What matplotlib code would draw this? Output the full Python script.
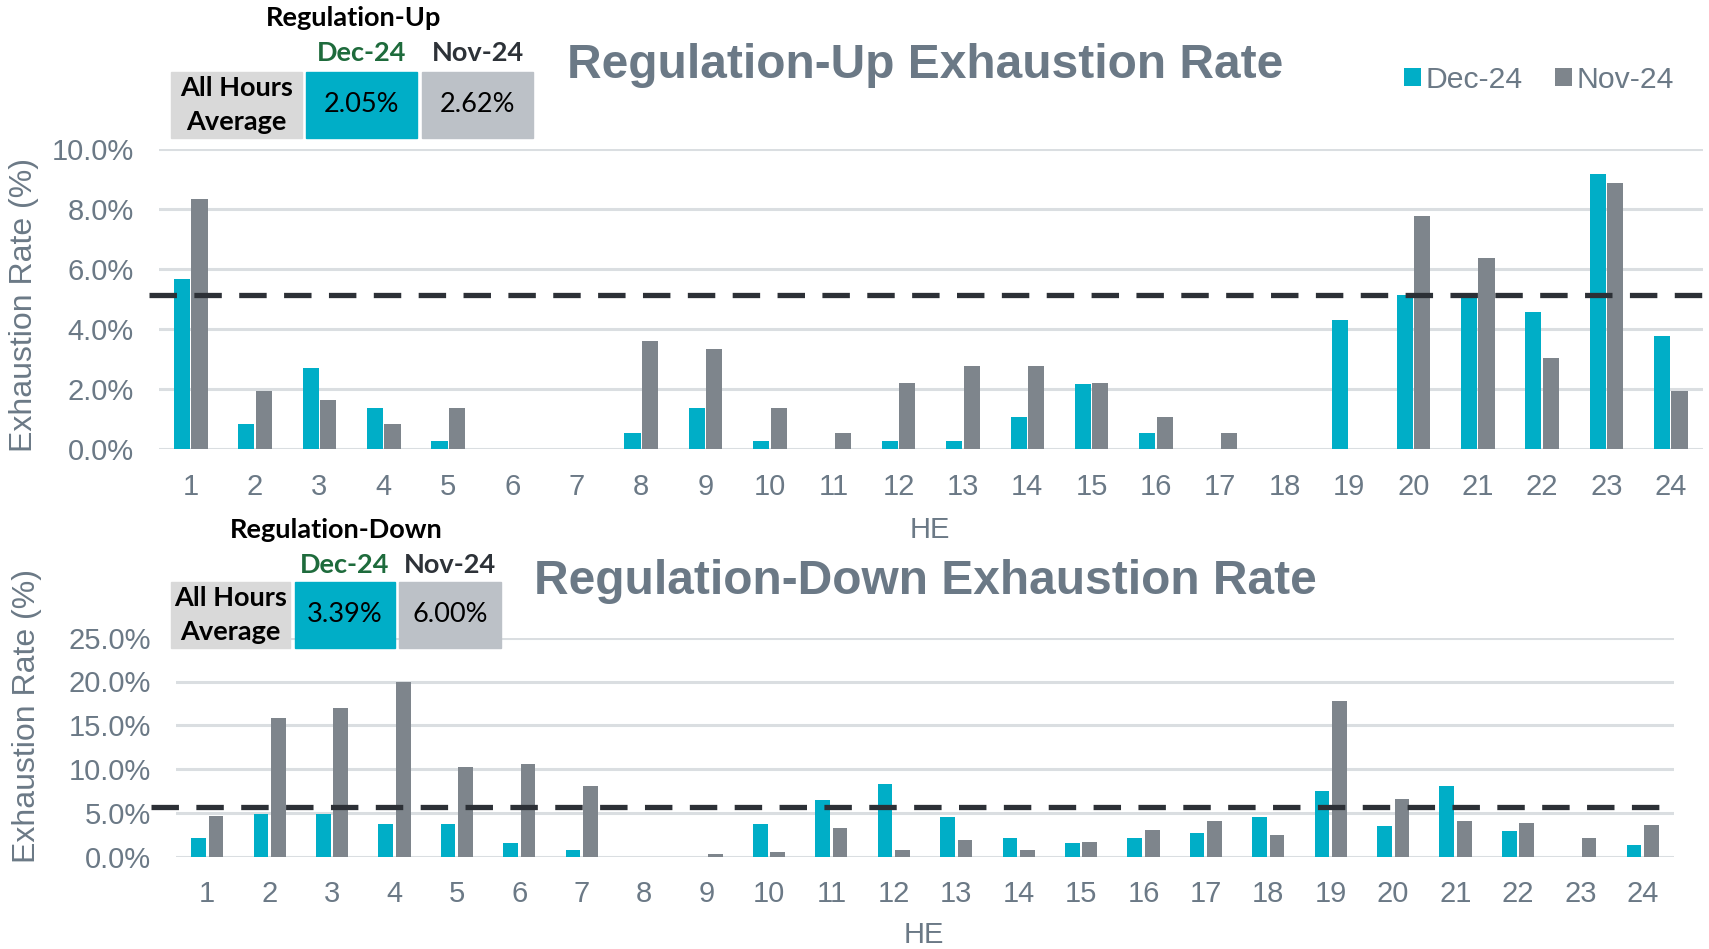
import matplotlib
matplotlib.use("Agg")
import matplotlib.pyplot as plt
from matplotlib.patches import Rectangle
import numpy as np

hours = [str(h) for h in range(1, 25)]
up_dec = [5.66, 0.82, 2.69, 1.36, 0.28, 0, 0, 0.55, 1.36, 0.28, 0, 0.28,
          0.28, 1.08, 2.16, 0.55, 0, 0, 4.31, 5.13, 5.12, 4.58, 9.16, 3.78]
up_nov = [8.32, 1.92, 1.65, 0.82, 1.37, 0, 0, 3.60, 3.32, 1.37, 0.54, 2.20,
          2.76, 2.76, 2.20, 1.08, 0.54, 0, 0, 7.78, 6.38, 3.04, 8.88, 1.92]
down_dec = [2.10, 4.82, 4.82, 3.75, 3.75, 1.57, 0.76, 0, 0, 3.75, 6.46, 8.34,
            4.55, 2.10, 1.57, 2.10, 2.68, 4.55, 7.50, 3.48, 8.07, 2.91, 0, 1.30]
down_nov = [4.67, 15.87, 16.94, 20.0, 10.29, 10.55, 8.03, 0, 0.27, 0.54, 3.29, 0.76,
            1.87, 0.76, 1.64, 3.02, 4.13, 2.49, 17.82, 6.62, 4.13, 3.90, 2.18, 3.59]
up_threshold = 5.15
down_threshold = 5.65
series = ["Dec-24", "Nov-24"]
up_avg = ["2.05%", "2.62%"]
down_avg = ["3.39%", "6.00%"]
up_ticks = [0, 2, 4, 6, 8, 10]
down_ticks = [0, 5, 10, 15, 20, 25]

TEAL = "#00AEC7"
GRAY = "#7E858C"
TXT = "#6B7986"
GRID = "#DADEE1"
DASH = "#2C3036"
W, H = 1709, 949

plt.rcParams['font.family'] = ['Liberation Sans', 'DejaVu Sans']
fig = plt.figure(figsize=(W / 100, H / 100), dpi=100)


def fx(px):
    return px / W


def fy(py):
    return 1 - py / H


def make_panel(rect, dec, nov, ticks, thr, width, off, dash_xmin):
    ax = fig.add_axes(rect)
    x = np.arange(len(hours))
    b1 = ax.bar(x - off, dec, width, color=TEAL, zorder=3, label=series[0])
    b2 = ax.bar(x + off, nov, width, color=GRAY, zorder=3, label=series[1])
    ax.set_xlim(-0.5, len(hours) - 0.5)
    ax.set_ylim(0, ticks[-1])
    ax.set_yticks(ticks)
    ax.set_yticklabels([f"{t:.1f}%" for t in ticks])
    ax.set_xticks(x)
    ax.set_xticklabels(hours)
    for s in ax.spines.values():
        s.set_visible(False)
    ax.grid(axis='y', color=GRID, lw=2.2, zorder=0)
    ax.tick_params(axis='both', length=0, labelsize=21, labelcolor=TXT)
    ax.tick_params(axis='y', pad=18)
    ax.tick_params(axis='x', pad=17)
    ax.axhline(thr, xmin=dash_xmin, xmax=1.0, color=DASH, lw=3.8,
               dashes=(5.2, 3.3), zorder=4, clip_on=False)
    return ax, b1, b2


ax1, b1, b2 = make_panel([fx(158.6), fy(449), fx(1703 - 158.6), 300 / H],
                         up_dec, up_nov, up_ticks, up_threshold, 0.25, 0.135, -0.006)
ax2, _, _ = make_panel([fx(176), fy(856.7), fx(1674 - 176), 219 / H],
                       down_dec, down_nov, down_ticks, down_threshold, 0.235, 0.14, -0.017)

# titles
fig.text(fx(925), fy(66), "Regulation-Up Exhaustion Rate", ha='center', va='center',
         fontsize=34.5, fontweight='bold', color=TXT)
fig.text(fx(925), fy(582), "Regulation-Down Exhaustion Rate", ha='center', va='center',
         fontsize=34.5, fontweight='bold', color=TXT)

# axis labels
fig.text(fx(930), fy(530), "HE", ha='center', va='center', fontsize=21, color=TXT)
fig.text(fx(924), fy(935), "HE", ha='center', va='center', fontsize=21, color=TXT)
fig.text(fx(24), fy(305), "Exhaustion Rate (%)", ha='center', va='center',
         rotation=90, fontsize=23, color=TXT)
fig.text(fx(27), fy(716), "Exhaustion Rate (%)", ha='center', va='center',
         rotation=90, fontsize=23, color=TXT)

# legend
fig.legend(handles=[b1, b2], labels=series, loc='center left',
           bbox_to_anchor=(fx(1404), fy(80)), ncol=2, frameon=False,
           fontsize=21.7, labelcolor=TXT, handlelength=0.55, handleheight=0.55,
           handletextpad=0.15, columnspacing=1.1, borderaxespad=0, borderpad=0)


# summary tables
TFONT = ['Lato', 'DejaVu Sans']
TSIZE = 19.5


def table(title, title_xy, vals, cells, y0, y1, hdr_y):
    fig.text(fx(title_xy[0]), fy(title_xy[1]), title, ha='center', va='center',
             fontsize=TSIZE, fontweight='bold', color='black', family=TFONT)
    colors = ['#D9D9D9', TEAL, '#BCC1C7']
    texts = ["All Hours\nAverage", vals[0], vals[1]]
    hdr_colors = ['#1E6B3C', '#2D3238']
    for i, (xa, xb) in enumerate(cells):
        fig.patches.append(Rectangle((fx(xa), fy(y1)), fx(xb - xa), (y1 - y0) / H,
                                     transform=fig.transFigure, color=colors[i],
                                     zorder=5))
        fig.text(fx((xa + xb) / 2), fy((y0 + y1) / 2), texts[i], ha='center',
                 va='center', fontsize=TSIZE, family=TFONT, color='black',
                 fontweight='bold' if i == 0 else 'normal', linespacing=1.45,
                 zorder=6)
        if i > 0:
            fig.text(fx((xa + xb) / 2), fy(hdr_y), series[i - 1], ha='center',
                     va='center', fontsize=TSIZE, fontweight='bold',
                     color=hdr_colors[i - 1], family=TFONT)


table("Regulation-Up", (354, 18), up_avg,
      [(171, 302), (306, 417), (422, 533)], 72, 138, 53)
table("Regulation-Down", (336, 530), down_avg,
      [(171, 290), (295, 395), (399, 501)], 582, 648, 565)

fig.savefig("out.png", dpi=100)
